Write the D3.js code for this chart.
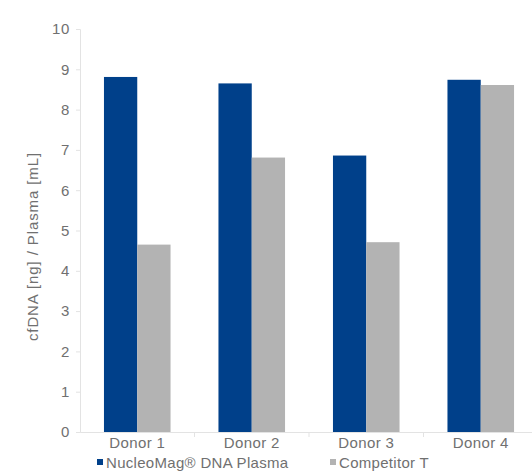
<!DOCTYPE html>
<html>
<head>
<meta charset="utf-8">
<script src="https://cdn.jsdelivr.net/npm/d3@7"></script>
<style>
  body { margin: 0; background: #fff; }
  text { font-family: "Liberation Sans", Arial, sans-serif; fill: #707070; }
</style>
</head>
<body>
<div id="chart"></div>
<script>
const width = 532;
const height = 475;

const donors = ["Donor 1", "Donor 2", "Donor 3", "Donor 4"];
const seriesNames = ["NucleoMag® DNA Plasma", "Competitor T"];
const nucleoMag = [8.81, 8.65, 6.86, 8.74];
const competitorT = [4.65, 6.81, 4.71, 8.61];
const yTicks = [0, 1, 2, 3, 4, 5, 6, 7, 8, 9, 10];
const colors = ["#00408a", "#b3b3b3"];

const margin = { top: 29, right: -6, bottom: 43, left: 80 };

const svg = d3.select("#chart")
  .append("svg")
  .attr("width", width)
  .attr("height", height);

const x = d3.scaleBand()
  .domain(donors)
  .range([margin.left, width - margin.right])
  .paddingInner(0)
  .paddingOuter(0);

const inner = d3.scaleBand()
  .domain(seriesNames)
  .range([0, x.bandwidth()])
  .paddingOuter(0.72)
  .paddingInner(0);

const y = d3.scaleLinear()
  .domain([0, 10])
  .range([height - margin.bottom, margin.top]);

// y axis
const yAxis = svg.append("g")
  .attr("transform", `translate(${margin.left},0)`)
  .call(d3.axisLeft(y).tickValues(yTicks).tickSize(4).tickPadding(6));
yAxis.select(".domain").attr("stroke", "#e3e3e3");
yAxis.selectAll(".tick line").attr("stroke", "#e3e3e3");
yAxis.selectAll(".tick text")
  .style("font-size", "15px")
  .style("letter-spacing", "0.6px")
  .attr("fill", "#707070");

// bars
const rows = donors.map((d, i) => ({ donor: d, values: [nucleoMag[i], competitorT[i]] }));
svg.append("g")
  .selectAll("g")
  .data(rows)
  .enter().append("g")
  .attr("transform", d => `translate(${x(d.donor)},0)`)
  .selectAll("rect")
  .data(d => d.values.map((v, j) => ({ name: seriesNames[j], value: v, j })))
  .enter().append("rect")
  .attr("x", d => inner(d.name))
  .attr("width", inner.bandwidth())
  .attr("y", d => y(d.value))
  .attr("height", d => y(0) - y(d.value))
  .attr("fill", d => colors[d.j]);

// x axis
const xAxis = svg.append("g")
  .attr("transform", `translate(0,${y(0)})`)
  .call(d3.axisBottom(x).tickSize(0).tickPadding(5));
xAxis.select(".domain").attr("stroke", "#e3e3e3");
xAxis.selectAll(".tick text")
  .style("font-size", "15px")
  .style("letter-spacing", "0.4px")
  .attr("fill", "#707070");
svg.append("g")
  .selectAll("line")
  .data(donors.slice(1))
  .enter().append("line")
  .attr("x1", d => x(d)).attr("x2", d => x(d))
  .attr("y1", y(0)).attr("y2", y(0) + 5)
  .attr("stroke", "#e3e3e3");

// y title
svg.append("text")
  .attr("transform", `translate(38,${(y(0) + y(10)) / 2 + 16}) rotate(-90)`)
  .attr("text-anchor", "middle")
  .style("font-size", "15px")
  .style("letter-spacing", "0.9px")
  .text("cfDNA [ng] / Plasma [mL]");

// legend
const legendX = [97, 330];
const legend = svg.append("g")
  .selectAll("g")
  .data(seriesNames)
  .enter().append("g")
  .attr("transform", (d, i) => `translate(${legendX[i]},463)`);
legend.append("rect")
  .attr("x", 0).attr("y", -4)
  .attr("width", 6).attr("height", 6)
  .attr("fill", (d, i) => colors[i]);
legend.append("text")
  .attr("x", 9).attr("y", 5)
  .style("font-size", "15px")
  .style("letter-spacing", "0.3px")
  .text(d => d);
</script>
</body>
</html>
